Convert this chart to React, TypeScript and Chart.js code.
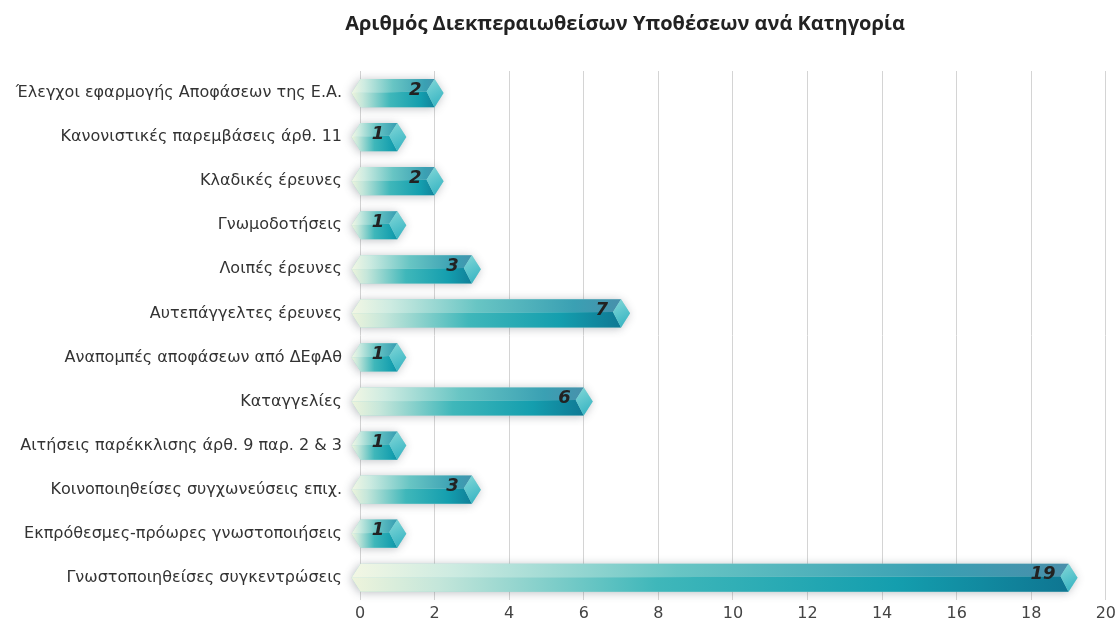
import React, { useEffect, useRef } from "react";
import { Chart, registerables } from "chart.js";

Chart.register(...registerables);

const TITLE = "Αριθμός Διεκπεραιωθείσων Υποθέσεων ανά Κατηγορία";

const categories = [
  "Έλεγχοι εφαρμογής Αποφάσεων της Ε.Α.",
  "Κανονιστικές παρεμβάσεις άρθ. 11",
  "Κλαδικές έρευνες",
  "Γνωμοδοτήσεις",
  "Λοιπές έρευνες",
  "Αυτεπάγγελτες έρευνες",
  "Αναπομπές αποφάσεων από ΔΕφΑθ",
  "Καταγγελίες",
  "Αιτήσεις παρέκκλισης άρθ. 9 παρ. 2 & 3",
  "Κοινοποιηθείσες συγχωνεύσεις επιχ.",
  "Εκπρόθεσμες-πρόωρες γνωστοποιήσεις",
  "Γνωστοποιηθείσες συγκεντρώσεις",
];

const values = [2, 1, 2, 1, 3, 7, 1, 6, 1, 3, 1, 19];

const xMin = 0;
const xMax = 20;
const xStep = 2;

const prismPlugin = {
  id: "prismBars",
  afterDatasetsDraw(chart: any) {
    const ctx = chart.ctx;
    const meta = chart.getDatasetMeta(0);
    meta.data.forEach((el: any, i: number) => {
      const { x, y, base, height } = el.getProps(["x", "y", "base", "height"], true);
      const h = height;
      const top = y - h / 2;
      const bottom = y + h / 2;
      const ridge = y - h * 0.05;
      const tail = base - 9;
      const tip = x + 9;

      // shadow body
      ctx.save();
      ctx.shadowColor = "rgba(60,70,80,0.35)";
      ctx.shadowBlur = 10;
      ctx.shadowOffsetX = -1;
      ctx.shadowOffsetY = 1;
      ctx.beginPath();
      ctx.moveTo(tail, y);
      ctx.lineTo(base, top);
      ctx.lineTo(x, top);
      ctx.lineTo(tip, y);
      ctx.lineTo(x, bottom);
      ctx.lineTo(base, bottom);
      ctx.closePath();
      ctx.fillStyle = "#9fd6d4";
      ctx.fill();
      ctx.restore();

      // front face
      const gF = ctx.createLinearGradient(tail, 0, tip, 0);
      gF.addColorStop(0, "#eef4dc");
      gF.addColorStop(0.12, "#c4e6da");
      gF.addColorStop(0.42, "#3fb7ba");
      gF.addColorStop(0.75, "#149eae");
      gF.addColorStop(1, "#0e7390");
      ctx.beginPath();
      ctx.moveTo(tail, y);
      ctx.lineTo(x - 8, ridge);
      ctx.lineTo(x, bottom);
      ctx.lineTo(base, bottom);
      ctx.closePath();
      ctx.fillStyle = gF;
      ctx.fill();

      // top face
      const gT = ctx.createLinearGradient(tail, 0, tip, 0);
      gT.addColorStop(0, "#f3f7e4");
      gT.addColorStop(0.14, "#cdebe1");
      gT.addColorStop(0.45, "#68c5c4");
      gT.addColorStop(0.8, "#3aa0b3");
      gT.addColorStop(1, "#4a8daa");
      ctx.beginPath();
      ctx.moveTo(tail, y);
      ctx.lineTo(base, top);
      ctx.lineTo(x, top);
      ctx.lineTo(x - 8, ridge);
      ctx.closePath();
      ctx.fillStyle = gT;
      ctx.fill();

      // end cap
      const gC = ctx.createLinearGradient(x - 8, top, tip, bottom);
      gC.addColorStop(0, "#84d8d8");
      gC.addColorStop(1, "#2eb0c0");
      ctx.beginPath();
      ctx.moveTo(x, top);
      ctx.lineTo(tip, y);
      ctx.lineTo(x, bottom);
      ctx.lineTo(x - 8, ridge);
      ctx.closePath();
      ctx.fillStyle = gC;
      ctx.fill();

      // value label
      ctx.save();
      ctx.font = "italic bold 18px 'DejaVu Sans'";
      ctx.fillStyle = "#222";
      ctx.textAlign = "right";
      ctx.textBaseline = "middle";
      ctx.fillText(String(values[i]), x - 13, y - 3);
      ctx.restore();
    });
  },
};

const titlePlugin = {
  id: "customTitle",
  afterDraw(chart: any) {
    const ctx = chart.ctx;
    ctx.save();
    ctx.font = "bold 20px 'Open Sans'";
    ctx.fillStyle = "#222";
    ctx.textAlign = "center";
    ctx.textBaseline = "middle";
    ctx.fillText(TITLE, 625, 24);
    ctx.restore();
  },
};

export default function App() {
  const ref = useRef<HTMLCanvasElement>(null);
  useEffect(() => {
    document.body.style.margin = "0";
    const chart = new Chart(ref.current as HTMLCanvasElement, {
      type: "bar",
      data: {
        labels: categories,
        datasets: [
          {
            data: values,
            backgroundColor: "rgba(0,0,0,0)",
            borderWidth: 0,
            barPercentage: 0.8,
            categoryPercentage: 0.8,
          },
        ],
      },
      options: {
        indexAxis: "y",
        responsive: false,
        animation: false,
        layout: { padding: { top: 71, right: 12, left: 8, bottom: 0 } },
        plugins: {
          legend: { display: false },
          title: { display: false },
          tooltip: { enabled: false },
        },
        scales: {
          x: {
            min: xMin,
            max: xMax,
            ticks: {
              stepSize: xStep,
              color: "#444",
              font: { family: "'DejaVu Sans'", size: 16 },
              padding: 4,
            },
            grid: { color: "#d4d4d4", lineWidth: 1, drawTicks: false },
            border: { display: false },
          },
          y: {
            afterFit(scale: any) {
              scale.width = 352;
            },
            ticks: {
              color: "#333",
              font: { family: "'DejaVu Sans'", size: 16 },
              padding: 10,
            },
            grid: { display: false },
            border: { display: false },
          },
        },
      },
      plugins: [prismPlugin, titlePlugin],
    });
    return () => chart.destroy();
  }, []);
  return <canvas ref={ref} width={1120} height={627} />;
}
